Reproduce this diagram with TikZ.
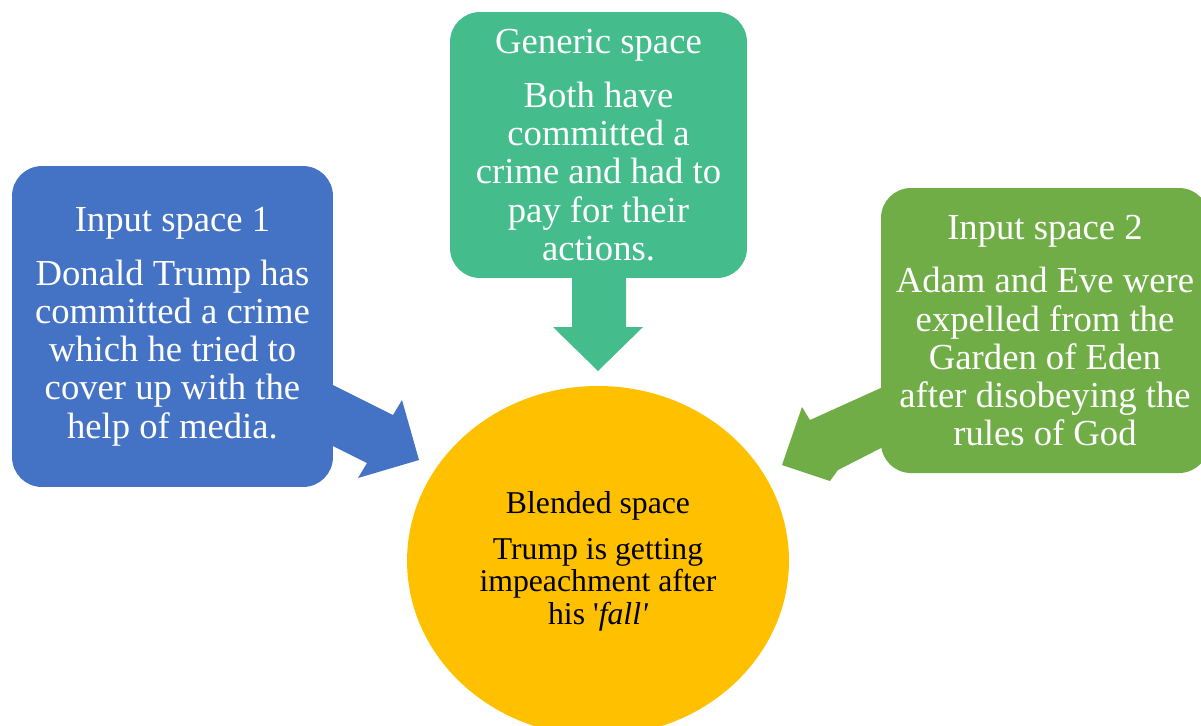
\documentclass[tikz,border=0pt]{standalone}
\usepackage{fontspec}
\setmainfont{Liberation Serif}
\newfontfamily\plainserif{Liberation Serif}
\usetikzlibrary{shapes.geometric}
\definecolor{cblue}{HTML}{4472C4}
\definecolor{cteal}{HTML}{44BC8C}
\definecolor{cgreen}{HTML}{70AD47}
\definecolor{cyellow}{HTML}{FFC000}
\newcommand\boxfont{\fontsize{20.8}{21.7}\selectfont}
\newcommand\blendfont{\fontsize{18}{18.4}\selectfont}
\tikzset{
  spacebox/.style={rounded corners=17pt, text=white, align=center, inner sep=0pt, font=\boxfont},
  blendnode/.style={ellipse, fill=cyellow, text=black, align=center, inner sep=0pt, font=\blendfont,
    minimum width=216.7pt, minimum height=198.6pt},
}
\begin{document}
\begin{tikzpicture}[x=0.5674pt, y=-0.5674pt]
\useasboundingbox (0,0) rectangle (1201,725);
\clip (0,0) rectangle (1201,725);
% blended ellipse
\node[blendnode] (blend) at (598,561) {Blended space\\[7.7pt]Trump is getting\\impeachment after\\his {\plainserif'}\textit{fall}{\plainserif\itshape'}};
% arrows
\fill[cblue] (333,385) -- (393,415) -- (402,400) -- (419,460) -- (358,478) -- (367,463) -- (333,446) -- cycle;
\fill[cgreen] (883,387) -- (810,420) -- (802,407) -- (782,465) -- (830,481) -- (838,470) -- (883,447) -- cycle;
\fill[cteal] (572,276) -- (572,327) -- (553,327) -- (598,371) -- (643,327) -- (626,327) -- (626,276) -- cycle;
% boxes
\node[spacebox, fill=cblue, minimum width=182.1pt, minimum height=182.1pt] (in1) at (172.5,326.5)
  {Input space 1\\[8.9pt]Donald Trump has\\committed a crime\\which he tried to\\cover up with the\\help of media.};
\node[spacebox, fill=cteal, minimum width=168.5pt, minimum height=150.9pt] (gen) at (598.5,145)
  {Generic space\\[8.9pt]Both have\\committed a\\crime and had to\\pay for their\\actions.};
\node[spacebox, fill=cgreen, minimum width=186.1pt, minimum height=161.7pt] (in2) at (1045,330.5)
  {Input space 2\\[8.9pt]Adam and Eve were\\expelled from the\\Garden of Eden\\after disobeying the\\rules of God};
\end{tikzpicture}
\end{document}
